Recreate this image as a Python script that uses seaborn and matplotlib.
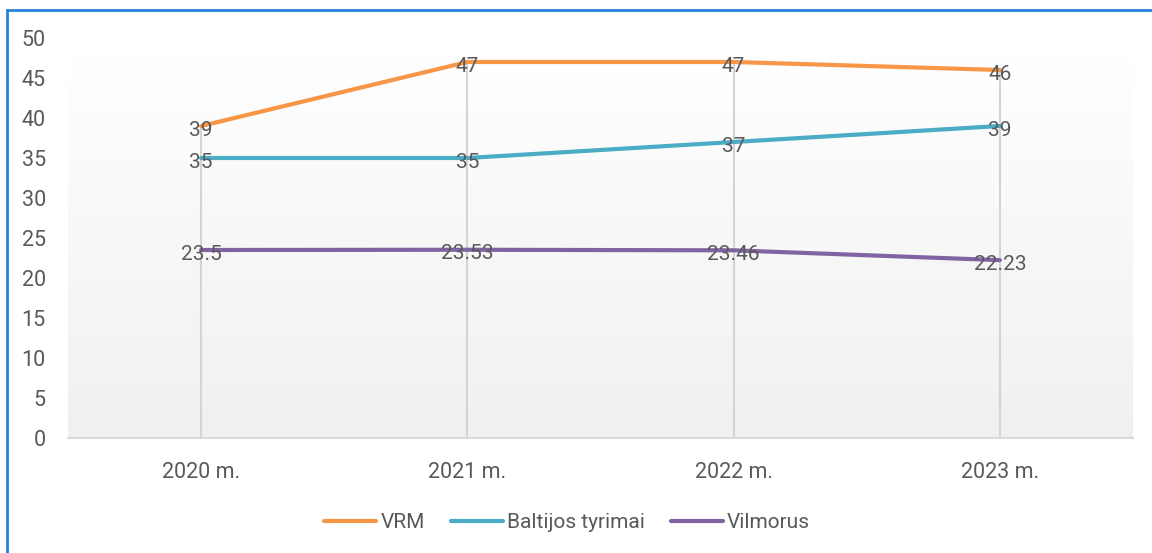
import numpy as np
import pandas as pd
import matplotlib
matplotlib.use("Agg")
import matplotlib.pyplot as plt
from matplotlib.colors import LinearSegmentedColormap
from matplotlib.patches import Rectangle
import seaborn as sns

# DATA

years = ["2020 m.", "2021 m.", "2022 m.", "2023 m."]
vrm = [39, 47, 47, 46]
baltijos = [35, 35, 37, 39]
vilmorus = [23.5, 23.53, 23.46, 22.23]

series_names = ["VRM", "Baltijos tyrimai", "Vilmorus"]
series_colors = ["#F79646", "#4BACC6", "#8064A2"]

df = pd.DataFrame({
    "Year": years * 3,
    "Value": vrm + baltijos + vilmorus,
    "Source": [n for n in series_names for _ in years],
})

# STYLE

sns.set_style("white")
plt.rcParams["font.family"] = ["Roboto", "DejaVu Sans"]
text_color = "#595959"

fig = plt.figure(figsize=(11.52, 5.53), dpi=100)
ax = fig.add_axes([68 / 1152, 115 / 553, 1065 / 1152, 400 / 553])

# gradient plot area background
grad = LinearSegmentedColormap.from_list("g", ["#f0f0f0", "#ffffff"])
ax.imshow(
    np.linspace(0, 1, 256).reshape(-1, 1),
    extent=(-0.5, len(years) - 0.5, 0, 47.5),
    origin="lower",
    aspect="auto",
    cmap=grad,
    zorder=0,
)

# drop lines from top point to axis
tops = df.groupby("Year", sort=False)["Value"].max()
ax.vlines(range(len(years)), 0, tops.values, color="#d4d4d4", lw=1.5, zorder=1)

sns.lineplot(
    data=df,
    x="Year",
    y="Value",
    hue="Source",
    palette=series_colors,
    linewidth=3,
    sort=False,
    ax=ax,
    zorder=3,
)

# data labels
for vals in [vrm, baltijos, vilmorus]:
    for i, v in enumerate(vals):
        ax.text(
            i, v - 0.5, f"{v:g}",
            ha="center", va="center",
            fontsize=15, color=text_color, zorder=4,
        )

ax.set_xlim(-0.5, len(years) - 0.5)
ax.set_ylim(0, 50)
ax.set_yticks(range(0, 51, 5))
ax.set_xlabel("")
ax.set_ylabel("")

ax.tick_params(axis="y", length=0, pad=16, labelsize=15.5, labelcolor=text_color)
ax.tick_params(axis="x", length=0, pad=17, labelsize=15.5, labelcolor=text_color)

for s in ["top", "right", "left"]:
    ax.spines[s].set_visible(False)
ax.spines["bottom"].set_color("#d9d9d9")
ax.spines["bottom"].set_linewidth(1.5)
ax.set_facecolor("none")

leg = ax.legend(
    loc="center",
    bbox_to_anchor=(567 / 1152, 30 / 553),
    bbox_transform=fig.transFigure,
    ncol=3,
    frameon=False,
    fontsize=15,
    handlelength=2.5,
    handletextpad=0.2,
    columnspacing=1.25,
)
for t in leg.get_texts():
    t.set_color(text_color)

# blue frame around chart
fig.patches.append(Rectangle(
    (7 / 1152, -0.1), 1.5, (553 - 10) / 553 + 0.1,
    transform=fig.transFigure, fill=False,
    edgecolor="#2683d9", linewidth=2,
))

fig.savefig("out.png", dpi=100)
